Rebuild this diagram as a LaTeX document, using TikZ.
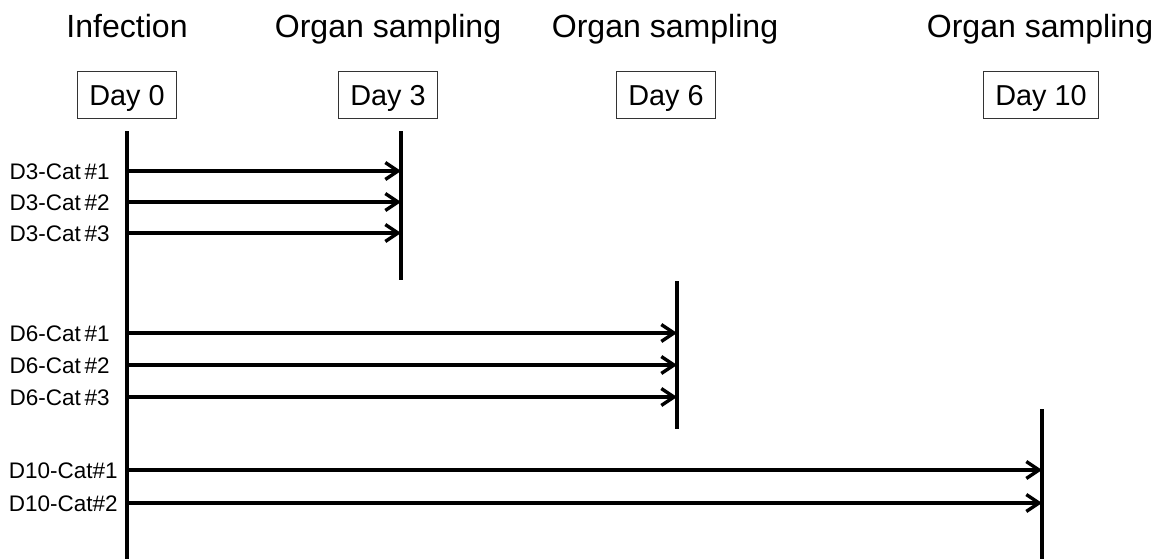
\documentclass[tikz,border=0pt]{standalone}
\usepackage{fontspec}
\setmainfont{Liberation Sans}
\usetikzlibrary{arrows.meta}

\begin{document}
\begin{tikzpicture}[x=0.025cm, y=-0.025cm,
    headtext/.style={anchor=base, font=\fontsize{22.8}{27}\selectfont},
    daybox/.style={draw=black!80, line width=1.1pt, minimum width=99*0.025cm,
                   minimum height=47*0.025cm, inner sep=0pt, text height=14.7pt, text depth=0pt,
                   font=\fontsize{20.5}{24}\selectfont},
    catlabel/.style={anchor=east, inner sep=0pt, text height=11.5pt, text depth=0pt,
                     font=\fontsize{16}{19}\selectfont},
    dayline/.style={line width=2.6pt},
    catarrow/.style={line width=2.6pt, -{Straight Barb[length=9pt, width=12pt, line width=2.4pt]}}]

    % Fix the page to the size of the reference
    \useasboundingbox (0,0) rectangle (1160,559);

    % Headers over the time points
    \node[headtext] (inf) at (127,37) {Infection};
    \node[headtext] (os3) at (388,37) {Organ sampling};
    \node[headtext] (os6) at (665,37) {Organ sampling};
    \node[headtext] (os10) at (1040,37) {Organ sampling};

    % Day boxes
    \node[daybox] (day0) at (127,95) {Day 0};
    \node[daybox] (day3) at (388,95) {Day 3};
    \node[daybox] (day6) at (666,95) {Day 6};
    \node[daybox, minimum width=115*0.025cm] (day10) at (1041,95) {Day 10};

    % Ends of the vertical time lines
    \coordinate (d0top) at (127,131);
    \coordinate (d0bot) at (127,559);
    \coordinate (d3top) at (401,131);
    \coordinate (d3bot) at (401,280);
    \coordinate (d6top) at (677,281);
    \coordinate (d6bot) at (677,429);
    \coordinate (d10top) at (1042,409);
    \coordinate (d10bot) at (1042,559);

    \draw[dayline] (d0top) -- (d0bot);
    \draw[dayline] (d3top) -- (d3bot);
    \draw[dayline] (d6top) -- (d6bot);
    \draw[dayline] (d10top) -- (d10bot);

    % Cats sampled on day 3
    \node[catlabel] (c31) at (110,171) {D3-Cat\,\#1};
    \node[catlabel] (c32) at (110,202) {D3-Cat\,\#2};
    \node[catlabel] (c33) at (110,233) {D3-Cat\,\#3};
    \foreach \c in {c31,c32,c33}
        \draw[catarrow] (d0top |- \c) -- (d3top |- \c);

    % Cats sampled on day 6
    \node[catlabel] (c61) at (110,333) {D6-Cat\,\#1};
    \node[catlabel] (c62) at (110,365) {D6-Cat\,\#2};
    \node[catlabel] (c63) at (110,397) {D6-Cat\,\#3};
    \foreach \c in {c61,c62,c63}
        \draw[catarrow] (d0top |- \c) -- (d6top |- \c);

    % Cats sampled on day 10
    \node[catlabel] (c101) at (118,470) {D10-Cat\#1};
    \node[catlabel] (c102) at (118,503) {D10-Cat\#2};
    \foreach \c in {c101,c102}
        \draw[catarrow] (d0top |- \c) -- (d10top |- \c);

\end{tikzpicture}
\end{document}
